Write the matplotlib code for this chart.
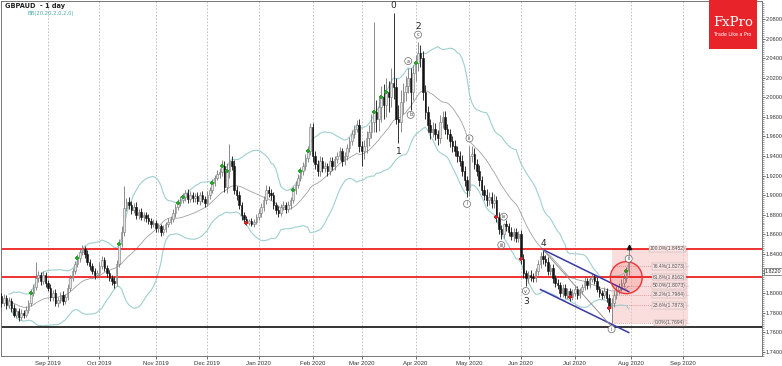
import numpy as np
import pandas as pd
import matplotlib
matplotlib.use("Agg")
import matplotlib.pyplot as plt
from matplotlib.patches import Ellipse, Rectangle
from matplotlib.transforms import blended_transform_factory

# ---------------- data ----------------
symbol_title = "GBPAUD  - 1 day"
indicator_title = "BB(20,20,2,0,2,0)"
first_open = 1.800

closes = [
    1.797, 1.790, 1.795, 1.788, 1.792,   # Aug 5-9 2019
    1.785, 1.778, 1.782, 1.775, 1.780,
    1.778, 1.783, 1.790, 1.800, 1.806,
    1.815, 1.818, 1.812, 1.818, 1.810,
    1.805, 1.796, 1.800, 1.790, 1.793,   # Sep 2-6
    1.798, 1.792, 1.796, 1.805, 1.815,
    1.822, 1.830, 1.836, 1.842, 1.845,
    1.840, 1.832, 1.828, 1.822, 1.818,
    1.820, 1.828, 1.834, 1.826, 1.820,   # Sep 30 - Oct 4
    1.815, 1.812, 1.810, 1.830, 1.850,
    1.862, 1.887, 1.893, 1.890, 1.885,
    1.888, 1.880, 1.883, 1.878, 1.880,
    1.877, 1.874, 1.870, 1.872, 1.866,   # Oct 28 - Nov 1
    1.868, 1.862, 1.865, 1.870, 1.873,
    1.876, 1.882, 1.888, 1.892, 1.895,
    1.898, 1.902, 1.896, 1.900, 1.897,
    1.899, 1.894, 1.900, 1.896, 1.892,
    1.900, 1.905, 1.912, 1.918, 1.922,   # Dec 2-6
    1.924, 1.930, 1.908, 1.925, 1.935,
    1.930, 1.905, 1.900, 1.890, 1.880,
    1.876, 1.872, 1.874, 1.870,          # Dec 23-27
    1.873, 1.878, 1.882, 1.888,          # Dec 30 - Jan 3
    1.895, 1.905, 1.902, 1.900, 1.890,
    1.885, 1.882, 1.888, 1.890, 1.886,
    1.890, 1.895, 1.905, 1.910, 1.918,
    1.925, 1.930, 1.938, 1.945, 1.970,
    1.940, 1.932, 1.925, 1.935, 1.928,   # Feb 3-7
    1.930, 1.925, 1.935, 1.930, 1.937,
    1.940, 1.945, 1.935, 1.940, 1.948,
    1.955, 1.962, 1.968, 1.972, 1.950,
    1.945, 1.950, 1.958, 1.965, 1.975,   # Mar 2-6
    1.985, 1.978, 1.990, 2.000, 1.992,
    2.005, 2.000, 2.015, 2.010, 1.978,
    1.975, 1.995, 2.005, 2.012, 2.020,
    2.005, 2.025, 2.035, 2.045, 2.040,   # Mar 30 - Apr 3
    2.005, 1.985, 1.972, 1.965, 1.968,
    1.962, 1.958, 1.975, 1.980, 1.968,
    1.962, 1.955, 1.950, 1.945, 1.940,
    1.935, 1.925, 1.915, 1.905, 1.940,
    1.942, 1.932, 1.925, 1.915, 1.905,   # May 4-8
    1.900, 1.895, 1.898, 1.892, 1.895,
    1.878, 1.865, 1.860, 1.870, 1.868,
    1.862, 1.858, 1.862, 1.856, 1.860,
    1.835, 1.820, 1.815, 1.818, 1.816,   # Jun 1-5
    1.815, 1.822, 1.830, 1.838, 1.835,
    1.832, 1.822, 1.826, 1.815, 1.810,
    1.808, 1.800, 1.805, 1.798, 1.802,
    1.796, 1.800, 1.804, 1.798, 1.802,   # Jun 29 - Jul 3
    1.806, 1.812, 1.808, 1.814, 1.816,
    1.812, 1.804, 1.800, 1.798, 1.802,
    1.795, 1.785, 1.790, 1.798, 1.803,
    1.806, 1.810, 1.815, 1.822, 1.838,   # Jul 27-31
]

# wick lengths beyond the body, in thousandths
up_wick = [
    4, 3, 4, 3, 4,  3, 4, 3, 3, 4,  3, 4, 3, 4, 3,  17, 4, 3, 4, 3,
    3, 4, 3, 4, 3,  3, 4, 3, 4, 3,  4, 3, 4, 3, 4,  3, 4, 3, 3, 4,
    3, 4, 4, 3, 3,  3, 3, 4, 4, 5,  6, 22, 4, 5, 4,  4, 5, 3, 4, 3,
    3, 4, 3, 4, 3,  4, 3, 4, 3, 4,  3, 4, 3, 4, 4,  4, 3, 4, 4, 3,
    3, 4, 3, 4, 3,  4, 3, 4, 3, 4,  4, 6, 5, 8, 17,  5, 6, 4, 4, 3,
    3, 3, 2, 3,     3, 3, 4, 4,
    4, 5, 4, 4, 3,  3, 4, 3, 4, 3,  4, 3, 4, 4, 4,  4, 4, 4, 5, 4,
    4, 5, 4, 5, 4,  4, 3, 4, 4, 3,  4, 4, 3, 4, 4,  4, 5, 4, 5, 6,
    5, 6, 8, 7, 8,  92, 12, 10, 12, 14,  15, 12, 15, 71, 10,  14, 12, 10, 10, 10,
    10, 8, 8, 11, 8,  7, 8, 6, 6, 7,  6, 5, 7, 6, 6,  5, 6, 5, 6, 5,
    5, 6, 5, 5, 10,  8, 6, 5, 6, 5,  5, 6, 5, 5, 6,  4, 5, 4, 2, 5,
    4, 5, 4, 4, 3,  4, 5, 4, 4, 5,  4, 4, 4, 4, 7,  4, 5, 4, 4, 3,
    4, 3, 4, 4, 3,  3, 4, 4, 3, 3,  3, 4, 3, 3, 3,  3, 4, 3, 3, 4,
    3, 4, 5, 4, 4,  4, 4, 4, 5, 7,
]
down_wick = [
    3, 4, 3, 4, 3,  4, 3, 4, 4, 3,  4, 3, 3, 3, 3,  3, 4, 4, 3, 4,
    3, 4, 4, 3, 4,  3, 4, 3, 3, 3,  3, 3, 3, 4, 3,  4, 3, 4, 3, 4,
    3, 3, 3, 4, 4,  3, 4, 5, 3, 3,  3, 4, 3, 4, 4,  3, 4, 4, 3, 4,
    4, 3, 4, 3, 4,  4, 4, 3, 3, 3,  3, 3, 4, 3, 3,  3, 4, 4, 3, 4,
    4, 3, 4, 3, 4,  3, 4, 3, 3, 3,  4, 4, 5, 6, 8,  4, 4, 5, 4, 5,
    4, 3, 3, 2,     3, 3, 3, 4,
    4, 4, 4, 5, 4,  4, 4, 3, 3, 4,  3, 4, 3, 4, 3,  4, 4, 4, 4, 4,
    6, 5, 5, 5, 4,  4, 5, 4, 4, 4,  4, 4, 5, 4, 4,  4, 4, 4, 4, 6,
    15, 8, 7, 8, 7,  10, 14, 12, 15, 14,  12, 15, 10, 12, 5,  22, 10, 12, 9, 8,
    18, 8, 8, 8, 9,  8, 7, 7, 8, 6,  6, 7, 5, 6, 6,  5, 6, 6, 5, 6,
    5, 5, 6, 7, 6,  6, 5, 5, 6, 5,  5, 6, 5, 5, 5,  5, 5, 5, 4, 5,
    4, 4, 5, 4, 4,  5, 5, 8, 5, 4,  4, 4, 4, 4, 5,  4, 4, 4, 5, 4,
    4, 4, 4, 3, 4,  4, 3, 3, 4, 3,  3, 3, 4, 3, 3,  3, 3, 4, 4, 3,
    4, 4, 16, 4, 4,  4, 4, 4, 4, 4,
]

month_labels = ["Sep 2019", "Oct 2019", "Nov 2019", "Dec 2019", "Jan 2020", "Feb 2020",
                "Mar 2020", "Apr 2020", "May 2020", "Jun 2020", "Jul 2020", "Aug 2020", "Sep 2020"]
month_starts = ["2019-09", "2019-10", "2019-11", "2019-12", "2020-01", "2020-02",
                "2020-03", "2020-04", "2020-05", "2020-06", "2020-07", "2020-08", "2020-09"]

support_levels = [1.8452, 1.8160]     # red lines
base_level = 1.7655                  # black line
last_price = 1.8220

fib_low, fib_high = 1.7694, 1.8452
fib_ratios = [1.0, 0.764, 0.618, 0.5, 0.382, 0.236, 0.0]
fib_start_date, fib_end_date = "2020-07-22", "2020-09-03"

channel_upper = [("2020-06-12", 1.8443), ("2020-07-31", 1.8014)]
channel_lower = [("2020-06-11", 1.8035), ("2020-07-31", 1.7596)]
gray_trend = [("2020-06-12", 1.8443), ("2020-07-22", 1.7657)]

wave_labels = [("0", "2020-03-19", 2.094), ("1", "2020-03-23", 1.945), ("2", "2020-04-02", 2.072),
               ("3", "2020-06-03", 1.7912), ("4", "2020-06-12", 1.851)]
circle_labels = [("a", "2020-03-27", 2.037), ("b", "2020-03-30", 1.982), ("c", "2020-04-02", 2.064),
                 ("i", "2020-04-30", 1.891), ("ii", "2020-05-01", 1.958), ("iii", "2020-05-20", 1.849),
                 ("iv", "2020-05-21", 1.878), ("v", "2020-06-03", 1.802),
                 ("i", "2020-07-22", 1.763), ("ii", "2020-07-31", 1.835)]

green_signal_dates = ["2019-08-22", "2019-09-18", "2019-10-11", "2019-11-14", "2019-11-18",
                      "2019-12-04", "2019-12-10", "2019-12-12", "2020-01-22", "2020-01-27",
                      "2020-01-30", "2020-03-09", "2020-03-12", "2020-03-16", "2020-04-01",
                      "2020-07-30"]
red_signal_dates = ["2019-12-24", "2020-05-18", "2020-06-01", "2020-06-29", "2020-07-21"]

circle_center = ("2020-07-30", 1.8157)

# ---------------- build OHLC ----------------
dates = pd.bdate_range("2019-08-05", "2020-07-31")
dates = dates[~dates.isin(pd.to_datetime(["2019-12-25", "2020-01-01"]))]
assert len(dates) == len(closes) == len(up_wick) == len(down_wick)
c = np.array(closes)
o = np.concatenate([[first_open], c[:-1]])
hi = np.maximum(o, c) + np.array(up_wick) / 1000.0
lo = np.minimum(o, c) - np.array(down_wick) / 1000.0
future = pd.bdate_range("2020-08-03", "2020-11-30")
all_dates = dates.append(future)


def xi(d):
    return int(all_dates.get_indexer([pd.Timestamp(d)], method="nearest")[0])


x = np.arange(len(c))

# ---------------- figure ----------------
W, H = 782, 366
fig = plt.figure(figsize=(W / 100, H / 100), dpi=100)
fig.patch.set_facecolor("white")
ax = fig.add_axes([1 / W, 10 / H, 761 / W, 355 / H])
ax.set_facecolor("white")

ax.set_xlim(0.8, 311.4)
ax.set_ylim(1.73561, 2.09837)

# month grid
mpos = []
for m in month_starts:
    mask = np.array([d.strftime("%Y-%m") == m for d in all_dates])
    mpos.append(int(np.argmax(mask)))
for p in mpos:
    ax.axvline(p, color="#b8b8b8", lw=0.6, ls=(0, (2, 2)), zorder=0)

# Bollinger bands
s = pd.Series(c)
mid = s.rolling(20, min_periods=5).mean()
sd = s.rolling(20, min_periods=5).std(ddof=0)
ax.plot(x, mid, color="#a0a0a0", lw=0.6, zorder=1)
ax.plot(x, mid + 2 * sd, color="#9fcfcf", lw=0.8, zorder=1)
ax.plot(x, mid - 2 * sd, color="#9fcfcf", lw=0.8, zorder=1)

# fib box
fx0, fx1 = xi(fib_start_date), xi(fib_end_date)
ax.add_patch(Rectangle((fx0, fib_low), fx1 - fx0, fib_high - fib_low,
                       facecolor="#f7c9c9", alpha=0.6, edgecolor="none", zorder=0.5))
for r in fib_ratios:
    lvl = fib_low + r * (fib_high - fib_low)
    ax.plot([fx0, fx1], [lvl, lvl], color="#d08a8a", lw=0.5, ls=(0, (1.5, 1.5)), zorder=0.6)
    ax.text(fx1 - 1.0, lvl, f"{r*100:.1f}%({lvl:.4f})", fontsize=3.6, color="#555555",
            ha="right", va="center", zorder=3, family="Liberation Sans",
            bbox=dict(boxstyle="square,pad=0.15", fc="#fbe3e3", ec="#b0a0a0", lw=0.3))

# horizontal levels
for lv in support_levels:
    ax.axhline(lv, color="#ee2222", lw=1.3, zorder=2)
ax.axhline(base_level, color="#111111", lw=1.2, zorder=2)

# candles
up = c >= o
wick_col = np.where(up, "#777777", "#111111")
ax.vlines(x, lo, hi, colors=wick_col, lw=0.6, zorder=3)
body_h = np.maximum(np.abs(c - o), 0.0006)
ax.bar(x[up], body_h[up], bottom=np.minimum(o, c)[up], width=0.62,
       color="#e6e6e6", edgecolor="#777777", linewidth=0.4, zorder=4)
ax.bar(x[~up], body_h[~up], bottom=np.minimum(o, c)[~up], width=0.62,
       color="#111111", edgecolor="#111111", linewidth=0.4, zorder=4)

# trend / channel lines
for line, col, lw in [(channel_upper, "#3838a8", 1.1), (channel_lower, "#3838a8", 1.1),
                      (gray_trend, "#909090", 0.7)]:
    ax.plot([xi(line[0][0]), xi(line[1][0])], [line[0][1], line[1][1]], color=col, lw=lw, zorder=5)

# signals
gx = [xi(d) for d in green_signal_dates]
ax.scatter(gx, c[gx], marker="P", s=7, color="#2ca02c", linewidths=0, zorder=6)
rx = [xi(d) for d in red_signal_dates]
ax.scatter(rx, c[rx], marker="P", s=7, color="#cc2222", linewidths=0, zorder=6)

# red circle
cx = xi(circle_center[0])
ax.add_patch(Ellipse((cx, circle_center[1]), 13, 0.0327, facecolor=(1, 0, 0, 0.13),
                     edgecolor="#ee3333", lw=1.0, zorder=6))
# arrow at last candle
ax.scatter([x[-1]], [hi[-1] + 0.0015], marker="^", s=9, color="#111111", zorder=7)

# wave labels
for t, d, y in wave_labels:
    ax.text(xi(d), y, t, fontsize=6.5, ha="center", va="center", color="#222222", zorder=7)
for t, d, y in circle_labels:
    ax.text(xi(d), y, t, fontsize=3.6, ha="center", va="center", color="#444444", zorder=7,
            bbox=dict(boxstyle="circle,pad=0.2", fc="white", ec="#666666", lw=0.5))

# axes styling
ax.yaxis.tick_right()
ax.set_yticks(np.arange(1.74, 2.0801, 0.02))
ax.set_yticks(np.arange(1.736, 2.098, 0.002), minor=True)
ax.yaxis.set_major_formatter(matplotlib.ticker.FuncFormatter(
    lambda v, pos: "" if abs(v - last_price) < 0.004 else f"{v:.4f}"))
ax.tick_params(axis="y", which="major", labelsize=4.0, length=2.0, width=0.5, pad=0.8, colors="#333333")
ax.tick_params(axis="y", which="minor", length=1.2, width=0.4, colors="#555555")
ax.set_xticks(mpos)
ax.set_xticklabels(month_labels)
ax.tick_params(axis="x", labelsize=4.3, length=2.5, width=0.5, pad=1, colors="#333333")
for lab in ax.get_xticklabels() + ax.get_yticklabels():
    lab.set_family("Liberation Sans")
for sp in ax.spines.values():
    sp.set_color("#777777")
    sp.set_linewidth(0.7)

# last price tag
tr = blended_transform_factory(ax.transAxes, ax.transData)
ax.text(1.004, last_price, f"{last_price:.4f}", transform=tr, fontsize=3.9, ha="left", va="center",
        color="#222222", family="Liberation Sans",
        bbox=dict(boxstyle="square,pad=0.15", fc="white", ec="#333333", lw=0.4),
        zorder=8, clip_on=False)

# titles
fig.text(5 / W, 1 - 6 / H, symbol_title, fontsize=4.8, fontweight="bold", color="#222222",
         ha="left", va="center")
fig.text(28 / W, 1 - 13 / H, indicator_title, fontsize=3.8, color="#4aa7a7", ha="left", va="center")

# logo
fig.patches.append(Rectangle((709 / W, 1 - 49 / H), 48 / W, 49 / H, transform=fig.transFigure,
                             facecolor="#e8232a", edgecolor="none", zorder=10))
fig.text(733 / W, 1 - 22 / H, "FxPro", fontsize=9.5, color="white", family="DejaVu Serif",
         ha="center", va="center", zorder=11)
fig.text(733 / W, 1 - 35 / H, "Trade Like a Pro", fontsize=3.4, color="white",
         ha="center", va="center", zorder=11)

fig.savefig("out.png", dpi=100)
